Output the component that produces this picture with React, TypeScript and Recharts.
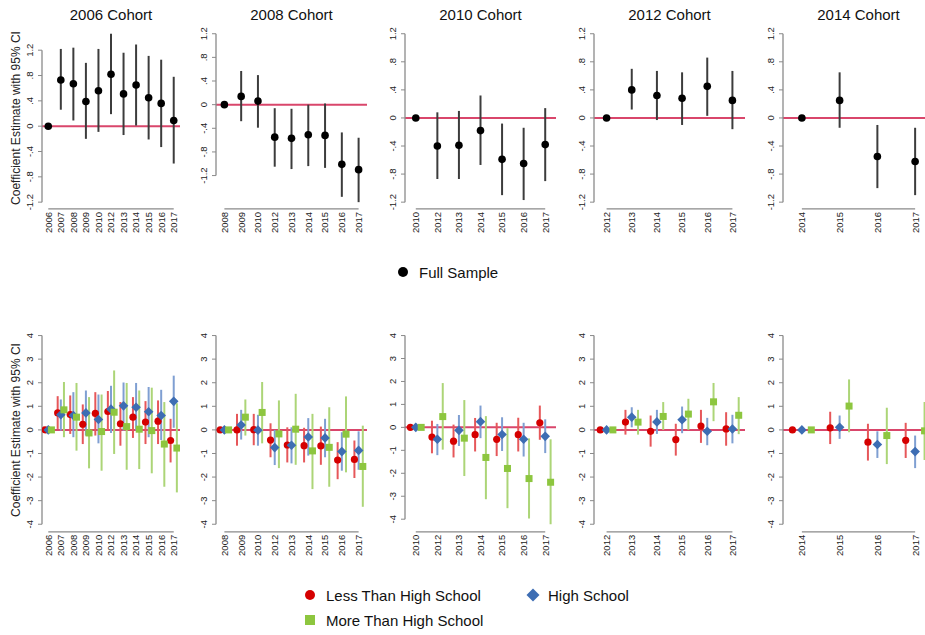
import React from 'react';
import { ComposedChart, Scatter, XAxis, YAxis, ErrorBar, ReferenceLine } from 'recharts';

// year labels per cohort
const years2006 = ['2006', '2007', '2008', '2009', '2010', '2012', '2013', '2014', '2015', '2016', '2017'];
const years2008 = ['2008', '2009', '2010', '2012', '2013', '2014', '2015', '2016', '2017'];
const years2010 = ['2010', '2012', '2013', '2014', '2015', '2016', '2017'];
const years2012 = ['2012', '2013', '2014', '2015', '2016', '2017'];
const years2014 = ['2014', '2015', '2016', '2017'];

// [estimate, lower CI, upper CI]
const full2006 = [[0, 0, 0], [0.73, 0.26, 1.22], [0.67, 0.09, 1.24], [0.39, -0.2, 1.0], [0.56, -0.09, 1.22], [0.82, 0.19, 1.46], [0.51, -0.14, 1.16], [0.65, 0.01, 1.29], [0.45, -0.21, 1.11], [0.36, -0.33, 1.05], [0.09, -0.59, 0.78]];
const full2008 = [[0, 0, 0], [0.14, -0.28, 0.57], [0.06, -0.39, 0.5], [-0.55, -1.05, -0.06], [-0.57, -1.09, -0.07], [-0.51, -1.04, 0.0], [-0.52, -1.07, 0.02], [-1.01, -1.56, -0.47], [-1.1, -1.65, -0.56]];
const full2010 = [[0, 0, 0], [-0.4, -0.87, 0.08], [-0.39, -0.87, 0.1], [-0.18, -0.67, 0.32], [-0.59, -1.1, -0.08], [-0.65, -1.17, -0.14], [-0.38, -0.9, 0.14]];
const full2012 = [[0, 0, 0], [0.4, 0.12, 0.7], [0.32, -0.03, 0.67], [0.28, -0.1, 0.65], [0.45, 0.03, 0.86], [0.25, -0.16, 0.67]];
const full2014 = [[0, 0, 0], [0.25, -0.14, 0.65], [-0.55, -1.0, -0.1], [-0.62, -1.1, -0.14]];

const less2006 = [[0, 0, 0], [0.72, 0.04, 1.43], [0.65, -0.17, 1.46], [0.24, -0.6, 1.08], [0.7, -0.24, 1.6], [0.78, -0.03, 1.65], [0.26, -0.67, 1.18], [0.54, -0.34, 1.39], [0.33, -0.6, 1.22], [0.37, -0.6, 1.25], [-0.45, -1.38, 0.47]];
const hs2006 = [[0, 0, 0], [0.64, -0.03, 1.29], [0.61, -0.31, 1.6], [0.72, -0.24, 1.67], [0.44, -0.57, 1.5], [0.88, -0.13, 1.87], [1.02, -0.03, 2.01], [0.96, -0.03, 1.99], [0.77, -0.31, 1.82], [0.61, -0.43, 1.7], [1.21, 0.09, 2.3]];
const more2006 = [[0, 0, 0], [0.85, -0.31, 2.03], [0.54, -0.88, 1.99], [-0.13, -1.63, 1.39], [-0.07, -1.73, 1.5], [0.75, -1.02, 2.52], [0.14, -1.69, 1.99], [0.03, -1.66, 1.67], [-0.03, -1.84, 1.79], [-0.6, -2.41, 1.18], [-0.77, -2.65, 1.13]];

const less2008 = [[0, 0, 0], [0.0, -0.67, 0.68], [0.01, -0.65, 0.68], [-0.43, -1.16, 0.28], [-0.64, -1.38, 0.11], [-0.67, -1.38, 0.09], [-0.68, -1.48, 0.14], [-1.28, -2.09, -0.52], [-1.25, -2.04, -0.45]];
const hs2008 = [[0, 0, 0], [0.21, -0.41, 0.85], [-0.01, -0.67, 0.64], [-0.75, -1.49, 0.0], [-0.65, -1.42, 0.11], [-0.3, -1.09, 0.5], [-0.34, -1.16, 0.47], [-0.92, -1.73, -0.1], [-0.87, -1.69, -0.06]];
const more2008 = [[0, 0, 0], [0.54, -0.24, 1.29], [0.74, -0.57, 2.03], [-0.17, -1.62, 1.25], [0.03, -1.48, 1.53], [-0.89, -2.51, 0.68], [-0.74, -2.41, 0.96], [-0.18, -1.8, 1.42], [-1.55, -3.26, 0.18]];

const less2010 = [[0, 0, 0], [-0.42, -1.13, 0.29], [-0.6, -1.31, 0.12], [-0.32, -1.05, 0.41], [-0.52, -1.25, 0.2], [-0.32, -1.05, 0.42], [0.2, -0.54, 0.95]];
const hs2010 = [[0, 0, 0], [-0.52, -1.21, 0.15], [-0.13, -0.81, 0.54], [0.25, -0.47, 0.95], [-0.31, -1.03, 0.44], [-0.52, -1.27, 0.2], [-0.39, -1.12, 0.35]];
const more2010 = [[0, 0, 0], [0.47, -0.97, 1.93], [-0.47, -2.12, 1.19], [-1.31, -3.13, 0.49], [-1.79, -3.52, -0.03], [-2.23, -3.97, -0.48], [-2.39, -4.22, -0.52]];

const less2012 = [[0, 0, 0], [0.33, -0.2, 0.85], [-0.06, -0.71, 0.61], [-0.41, -1.09, 0.26], [0.16, -0.55, 0.85], [0.04, -0.67, 0.75]];
const hs2012 = [[0, 0, 0], [0.54, 0.11, 0.96], [0.34, -0.17, 0.85], [0.43, -0.14, 0.99], [-0.06, -0.65, 0.51], [0.04, -0.57, 0.64]];
const more2012 = [[0, 0, 0], [0.33, -0.2, 0.85], [0.57, 0.0, 1.18], [0.67, 0.0, 1.32], [1.19, 0.37, 1.99], [0.62, -0.18, 1.39]];

const less2014 = [[0, 0, 0], [0.09, -0.6, 0.77], [-0.52, -1.3, 0.26], [-0.44, -1.19, 0.3]];
const hs2014 = [[0, 0, 0], [0.11, -0.38, 0.61], [-0.62, -1.19, -0.06], [-0.92, -1.62, -0.24]];
const more2014 = [[0, 0, 0], [1.01, -0.1, 2.14], [-0.24, -1.45, 0.94], [-0.04, -1.28, 1.18]];

const titles = ['2006 Cohort', '2008 Cohort', '2010 Cohort', '2012 Cohort', '2014 Cohort'];
const topTicks = [-1.2, -0.8, -0.4, 0, 0.4, 0.8, 1.2];
const bottomTicks = [-4, -3, -2, -1, 0, 1, 2, 3, 4];

const FONT = '"Liberation Sans", Arial, sans-serif';
const AXIS = '#8a8a8a';
const TXT = '#222';
const ZERO = '#d9466b';

// plot areas (pixels) for the five columns and two rows
const cols = [
  { left: 42, width: 138 },
  { left: 216, width: 151 },
  { left: 405, width: 151 },
  { left: 594, width: 151 },
  { left: 783, width: 151 },
];
const topRow = { top: 26.6, height: 181.9 };
const bottomRow = { top: 327.7, height: 203.8 };

const circle = (fill: string, r: number) => (p: any) => <circle cx={p.cx} cy={p.cy} r={r} fill={fill} />;
const diamond = (fill: string, d: number) => (p: any) => (
  <path d={`M${p.cx},${p.cy - d}L${p.cx + d},${p.cy}L${p.cx},${p.cy + d}L${p.cx - d},${p.cy}Z`} fill={fill} />
);
const square = (fill: string, s: number) => (p: any) => (
  <rect x={p.cx - s / 2} y={p.cy - s / 2} width={s} height={s} fill={fill} />
);

const fmtTop = (v: number) => (v === 0 ? '0' : (v < 0 ? '-' : '') + Math.abs(v).toFixed(1).replace(/^0/, ''));
const fmtBottom = (v: number) => String(v);

const toPoints = (vals: number[][], shift: number) =>
  vals.map((v, i) => ({ x: i + 1 + shift, y: v[0], err: [v[0] - v[1], v[2] - v[0]] }));

interface SeriesDef {
  name: string;
  vals: number[][];
  shift: number;
  shape: any;
  ci: string;
}

interface PanelProps {
  col: { left: number; width: number };
  row: { top: number; height: number };
  years: string[];
  series: SeriesDef[];
  ticks: number[];
  fmt: (v: number) => string;
}

const Panel = ({ col, row, years, series, ticks, fmt }: PanelProps) => {
  const n = years.length;
  let lo = ticks[0];
  let hi = ticks[ticks.length - 1];
  series.forEach(s => s.vals.forEach(v => { lo = Math.min(lo, v[1]); hi = Math.max(hi, v[2]); }));
  const pad = 0.04 * (hi - lo);
  const domain = [lo - pad, hi + pad];
  const YW = 40, MT = 5, XH = 40, MR = 5;
  const bottomY = MT + row.height;

  return (
    <div style={{ position: 'absolute', left: col.left - YW, top: row.top - MT }}>
      <ComposedChart width={YW + col.width + MR} height={MT + row.height + XH} margin={{ top: MT, right: MR, bottom: 0, left: 0 }}>
        <XAxis
          type="number"
          dataKey="x"
          domain={[0.5, n + 0.5]}
          ticks={years.map((_, i) => i + 1)}
          interval={0}
          allowDataOverflow
          axisLine={false}
          tickLine={false}
          height={XH}
          tick={(p: any) => {
            const ax = p.x + 3.4;
            const ay = bottomY + 3;
            return (
              <text x={ax} y={ay} transform={`rotate(-90 ${ax} ${ay})`} textAnchor="end" fontSize={9.5} fill={TXT} fontFamily={FONT}>
                {years[Math.round(p.payload.value) - 1]}
              </text>
            );
          }}
        />
        <YAxis
          type="number"
          dataKey="y"
          domain={domain}
          ticks={ticks}
          interval={0}
          allowDataOverflow
          axisLine={false}
          tickSize={4}
          tickLine={{ stroke: AXIS }}
          width={YW}
          tick={(p: any) => {
            const ax = YW - 8.6;
            return (
              <text x={ax} y={p.y} transform={`rotate(-90 ${ax} ${p.y})`} textAnchor="middle" fontSize={9.5} fill={TXT} fontFamily={FONT}>
                {fmt(p.payload.value)}
              </text>
            );
          }}
        />
        <ReferenceLine y={0} stroke={ZERO} strokeWidth={2} />
        <ReferenceLine segment={[{ x: 0.5, y: ticks[0] }, { x: 0.5, y: ticks[ticks.length - 1] }]} stroke={AXIS} strokeWidth={1.3} ifOverflow="visible" />
        <ReferenceLine segment={[{ x: 1, y: domain[0] }, { x: n, y: domain[0] }]} stroke={AXIS} strokeWidth={1.3} ifOverflow="visible" />
        {series.map(s => (
          <Scatter key={s.name} name={s.name} data={toPoints(s.vals, s.shift)} shape={s.shape} isAnimationActive={false}>
            <ErrorBar dataKey="err" direction="y" width={0} stroke={s.ci} strokeWidth={2} isAnimationActive={false} />
          </Scatter>
        ))}
      </ComposedChart>
    </div>
  );
};

const fullShape = circle('#000', 3.8);
const lessShape = circle('#d50000', 3.6);
const hsShape = diamond('#3d6db3', 4.8);
const moreShape = square('#8dc63f', 7);

const topData = [full2006, full2008, full2010, full2012, full2014];
const yearSets = [years2006, years2008, years2010, years2012, years2014];
const lessData = [less2006, less2008, less2010, less2012, less2014];
const hsData = [hs2006, hs2008, hs2010, hs2012, hs2014];
const moreData = [more2006, more2008, more2010, more2012, more2014];

const yLabel = (cy: number) => (
  <div
    style={{
      position: 'absolute', left: 16 - 100, top: cy - 8, width: 200, height: 16, lineHeight: '16px',
      textAlign: 'center', fontSize: 12, color: TXT, transform: 'rotate(-90deg)', whiteSpace: 'nowrap',
    }}
  >
    Coefficient Estimate with 95% CI
  </div>
);

export default function App() {
  return (
    <div style={{ position: 'absolute', left: 0, top: 0, width: 925, height: 635, overflow: 'hidden', background: '#fff', fontFamily: FONT }}>
      {titles.map((t, i) => (
        <div key={t} style={{ position: 'absolute', left: cols[i].left, top: 7, width: cols[i].width, textAlign: 'center', fontSize: 15, lineHeight: '16px', color: '#111' }}>
          {t}
        </div>
      ))}
      {yLabel(117.5)}
      {yLabel(429.6)}
      {cols.map((c, i) => (
        <Panel
          key={'top' + i}
          col={c}
          row={topRow}
          years={yearSets[i]}
          ticks={topTicks}
          fmt={fmtTop}
          series={[{ name: 'Full Sample', vals: topData[i], shift: 0, shape: fullShape, ci: '#3c3c3c' }]}
        />
      ))}
      {cols.map((c, i) => (
        <Panel
          key={'bottom' + i}
          col={c}
          row={bottomRow}
          years={yearSets[i]}
          ticks={bottomTicks}
          fmt={fmtBottom}
          series={[
            { name: 'Less Than High School', vals: lessData[i], shift: -0.25, shape: lessShape, ci: '#e6575a' },
            { name: 'High School', vals: hsData[i], shift: 0, shape: hsShape, ci: '#7f9fd2' },
            { name: 'More Than High School', vals: moreData[i], shift: 0.25, shape: moreShape, ci: '#acd577' },
          ]}
        />
      ))}
      <svg width={925} height={635} style={{ position: 'absolute', left: 0, top: 0, pointerEvents: 'none' }}>
        <g fontFamily={FONT} fontSize={15} fill="#111">
          <circle cx={403} cy={272} r={5} fill="#000" />
          <text x={419} y={272} dominantBaseline="central">Full Sample</text>
          <circle cx={310} cy={595} r={5} fill="#d50000" />
          <text x={326} y={595} dominantBaseline="central">Less Than High School</text>
          <path d="M533,588.5L539.5,595L533,601.5L526.5,595Z" fill="#3d6db3" />
          <text x={548} y={595} dominantBaseline="central">High School</text>
          <rect x={305} y={615} width={10} height={10} fill="#8dc63f" />
          <text x={326} y={620} dominantBaseline="central">More Than High School</text>
        </g>
      </svg>
    </div>
  );
}
